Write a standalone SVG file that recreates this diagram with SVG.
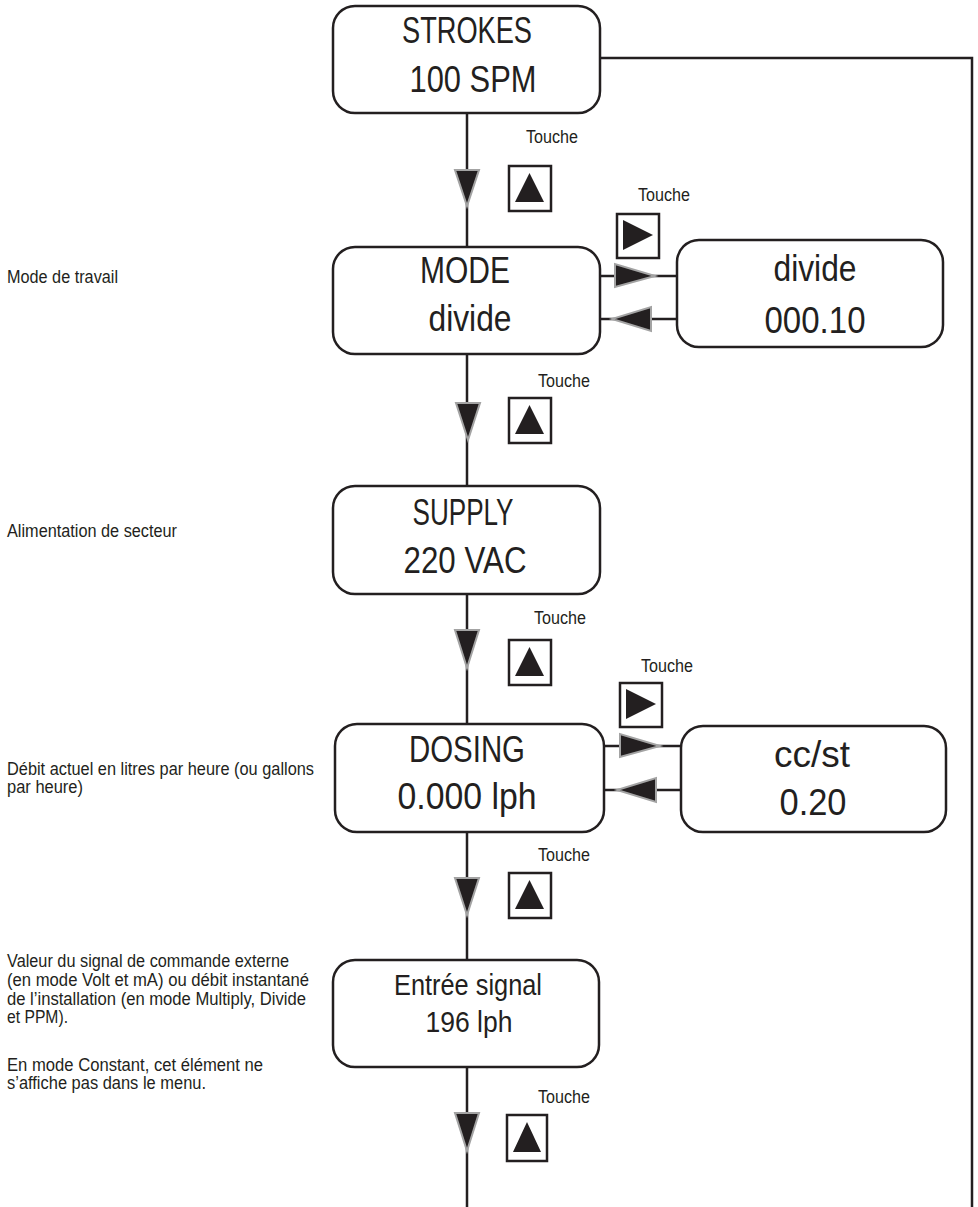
<svg xmlns="http://www.w3.org/2000/svg" width="978" height="1207" viewBox="0 0 978 1207">
<style>
.box{fill:#fff;stroke:#231f20;stroke-width:2.5}
.ln{fill:none;stroke:#231f20;stroke-width:2.5}
.tri{fill:#231f20;stroke:#a3a3a3;stroke-width:2;stroke-linejoin:miter}
.key{fill:#fff;stroke:#231f20;stroke-width:2.5}
.kt{fill:#231f20}
.big{font-family:"Liberation Sans",Arial,sans-serif;font-size:37px;fill:#231f20;text-anchor:middle}
.mid{font-family:"Liberation Sans",Arial,sans-serif;font-size:30px;fill:#231f20;text-anchor:middle}
.sm{font-family:"Liberation Sans",Arial,sans-serif;font-size:18px;fill:#231f20}
.note{font-family:"Liberation Sans",Arial,sans-serif;font-size:17.5px;fill:#231f20}
</style>
<rect width="978" height="1207" fill="#fff"/>
<g id="connectors">
<path class="ln" d="M467 113V247M467 354V486M467 594V724M467 832V960M467 1067V1207"/>
<path class="ln" d="M601 58H972V1207"/>
<path class="ln" d="M600 276H677M600 319H677"/>
<path class="ln" d="M604 746H681M604 790H681"/>
<polygon class="tri" points="455,170 479,170 467,206"/>
<polygon class="tri" points="456,403 480,403 468,440"/>
<polygon class="tri" points="455,630 479,630 467,668"/>
<polygon class="tri" points="455,878 479,878 467,915"/>
<polygon class="tri" points="455,1113 479,1113 467,1151"/>
<polygon class="tri" points="615,264 615,287 655,276"/>
<polygon class="tri" points="651,307 651,331 612,319"/>
<polygon class="tri" points="620,734 620,757 660,746"/>
<polygon class="tri" points="656,778 656,802 617,790"/>
</g>
<g id="keys">
<text class="sm" x="526" y="143" textLength="52" lengthAdjust="spacingAndGlyphs">Touche</text>
<rect class="key" x="509" y="166" width="42" height="45"/>
<polygon class="kt" points="515,202 544,202 529.5,173"/>
<text class="sm" x="638" y="201" textLength="52" lengthAdjust="spacingAndGlyphs">Touche</text>
<rect class="key" x="617" y="214" width="42" height="44"/>
<polygon class="kt" points="623,220 623,250 653,235"/>
<text class="sm" x="538" y="387" textLength="52" lengthAdjust="spacingAndGlyphs">Touche</text>
<rect class="key" x="509" y="398" width="42" height="45"/>
<polygon class="kt" points="515,434 544,434 529.5,405"/>
<text class="sm" x="534" y="624" textLength="52" lengthAdjust="spacingAndGlyphs">Touche</text>
<rect class="key" x="509" y="640" width="42" height="45"/>
<polygon class="kt" points="515,676 544,676 529.5,647"/>
<text class="sm" x="641" y="672" textLength="52" lengthAdjust="spacingAndGlyphs">Touche</text>
<rect class="key" x="620" y="683" width="42" height="44"/>
<polygon class="kt" points="626,689 626,719 656,704"/>
<text class="sm" x="538" y="861" textLength="52" lengthAdjust="spacingAndGlyphs">Touche</text>
<rect class="key" x="509" y="873" width="42" height="45"/>
<polygon class="kt" points="515,909 544,909 529.5,880"/>
<text class="sm" x="538" y="1103" textLength="52" lengthAdjust="spacingAndGlyphs">Touche</text>
<rect class="key" x="507" y="1115" width="40" height="46"/>
<polygon class="kt" points="513,1152 541,1152 527,1122"/>
</g>
<g id="n-strokes">
<rect class="box" x="333" y="6" width="267" height="107" rx="22"/>
<text class="big" x="467" y="43" textLength="130" lengthAdjust="spacingAndGlyphs">STROKES</text>
<text class="big" x="473" y="92" textLength="127" lengthAdjust="spacingAndGlyphs">100 SPM</text>
</g>
<g id="n-mode">
<rect class="box" x="333" y="247" width="267" height="107" rx="22"/>
<text class="big" x="465" y="283" textLength="90" lengthAdjust="spacingAndGlyphs">MODE</text>
<text class="big" x="470" y="331" textLength="83" lengthAdjust="spacingAndGlyphs">divide</text>
</g>
<g id="n-divide">
<rect class="box" x="677" y="240" width="266" height="107" rx="22"/>
<text class="big" x="815" y="281" textLength="83" lengthAdjust="spacingAndGlyphs">divide</text>
<text class="big" x="815" y="333" textLength="101" lengthAdjust="spacingAndGlyphs">000.10</text>
</g>
<g id="n-supply">
<rect class="box" x="333" y="486" width="267" height="108" rx="22"/>
<text class="big" x="463" y="525" textLength="101" lengthAdjust="spacingAndGlyphs">SUPPLY</text>
<text class="big" x="465" y="573" textLength="123" lengthAdjust="spacingAndGlyphs">220 VAC</text>
</g>
<g id="n-dosing">
<rect class="box" x="335" y="724" width="269" height="108" rx="22"/>
<text class="big" x="467" y="762" textLength="116" lengthAdjust="spacingAndGlyphs">DOSING</text>
<text class="big" x="467" y="809" textLength="139" lengthAdjust="spacingAndGlyphs">0.000 lph</text>
</g>
<g id="n-ccst">
<rect class="box" x="681" y="726" width="265" height="106" rx="22"/>
<text class="big" x="812" y="767" textLength="76" lengthAdjust="spacingAndGlyphs">cc/st</text>
<text class="big" x="813" y="815" textLength="67" lengthAdjust="spacingAndGlyphs">0.20</text>
</g>
<g id="n-signal">
<rect class="box" x="333" y="960" width="266" height="107" rx="22"/>
<text class="mid" x="468" y="995" textLength="148" lengthAdjust="spacingAndGlyphs">Entrée signal</text>
<text class="mid" x="469" y="1032" textLength="87" lengthAdjust="spacingAndGlyphs">196 lph</text>
</g>
<g id="notes">
<text class="note" x="7" y="283" textLength="111" lengthAdjust="spacingAndGlyphs">Mode de travail</text>
<text class="note" x="7" y="537" textLength="170" lengthAdjust="spacingAndGlyphs">Alimentation de secteur</text>
<text class="note" x="7" y="775" textLength="307" lengthAdjust="spacingAndGlyphs">Débit actuel en litres par heure (ou gallons</text>
<text class="note" x="7" y="793" textLength="76" lengthAdjust="spacingAndGlyphs">par heure)</text>
<text class="note" x="7" y="967" textLength="282" lengthAdjust="spacingAndGlyphs">Valeur du signal de commande externe</text>
<text class="note" x="7" y="986" textLength="302" lengthAdjust="spacingAndGlyphs">(en mode Volt et mA) ou débit instantané</text>
<text class="note" x="7" y="1005" textLength="299" lengthAdjust="spacingAndGlyphs">de l’installation (en mode Multiply, Divide</text>
<text class="note" x="7" y="1023" textLength="61" lengthAdjust="spacingAndGlyphs">et PPM).</text>
<text class="note" x="7" y="1071" textLength="256" lengthAdjust="spacingAndGlyphs">En mode Constant, cet élément ne</text>
<text class="note" x="7" y="1089" textLength="199" lengthAdjust="spacingAndGlyphs">s’affiche pas dans le menu.</text>
</g>
</svg>
